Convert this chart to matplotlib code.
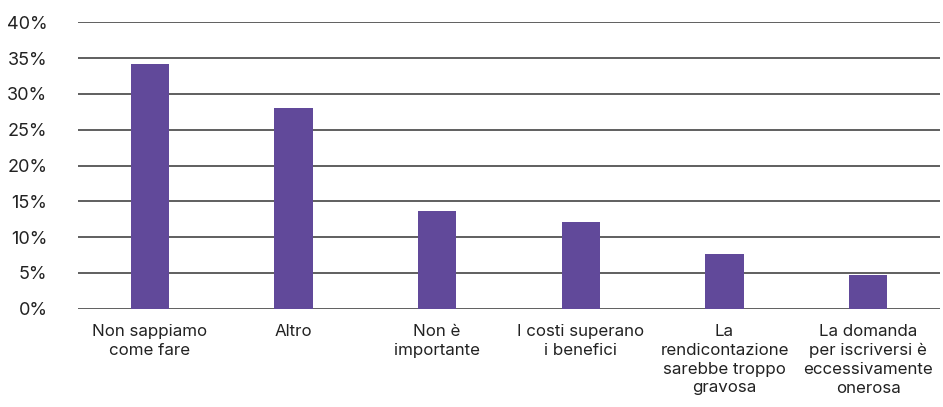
import matplotlib
matplotlib.use("Agg")
import matplotlib.pyplot as plt
from matplotlib.ticker import FuncFormatter

categories = ["Non sappiamo\ncome fare", "Altro", "Non è\nimportante",
              "I costi superano\ni benefici", "La\nrendicontazione\nsarebbe troppo\ngravosa",
              "La domanda\nper iscriversi è\neccessivamente\nonerosa"]
values = [34.2, 28.0, 13.6, 12.1, 7.6, 4.7]
yticks = [0, 5, 10, 15, 20, 25, 30, 35, 40]

plt.rcParams['font.family'] = ['Inter', 'DejaVu Sans']

fig = plt.figure(figsize=(9.43, 4.07), dpi=100)
ax = fig.add_axes([78/943, 1-308.7/407, (940-78)/943, (308.7-22.3)/407])

x = list(range(len(categories)))
ax.bar(x, values, width=0.265, color="#61499A", zorder=3)
ax.set_xlim(-0.5, len(categories)-0.5)
ax.set_ylim(0, 40)
ax.set_yticks(yticks)
ax.yaxis.set_major_formatter(FuncFormatter(lambda v, p: f"{int(v)}%"))
ax.grid(axis='y', color='#444444', linewidth=1.2, zorder=0)
for s in ax.spines.values():
    s.set_visible(False)
ax.tick_params(axis='y', length=0, pad=22, labelsize=13, labelcolor='#222222')
ax.tick_params(axis='x', length=0, pad=11, labelsize=12.2, labelcolor='#222222')
ax.set_xticks(x)
ax.set_xticklabels(categories, linespacing=1.32)

fig.savefig("out.png", dpi=100)
